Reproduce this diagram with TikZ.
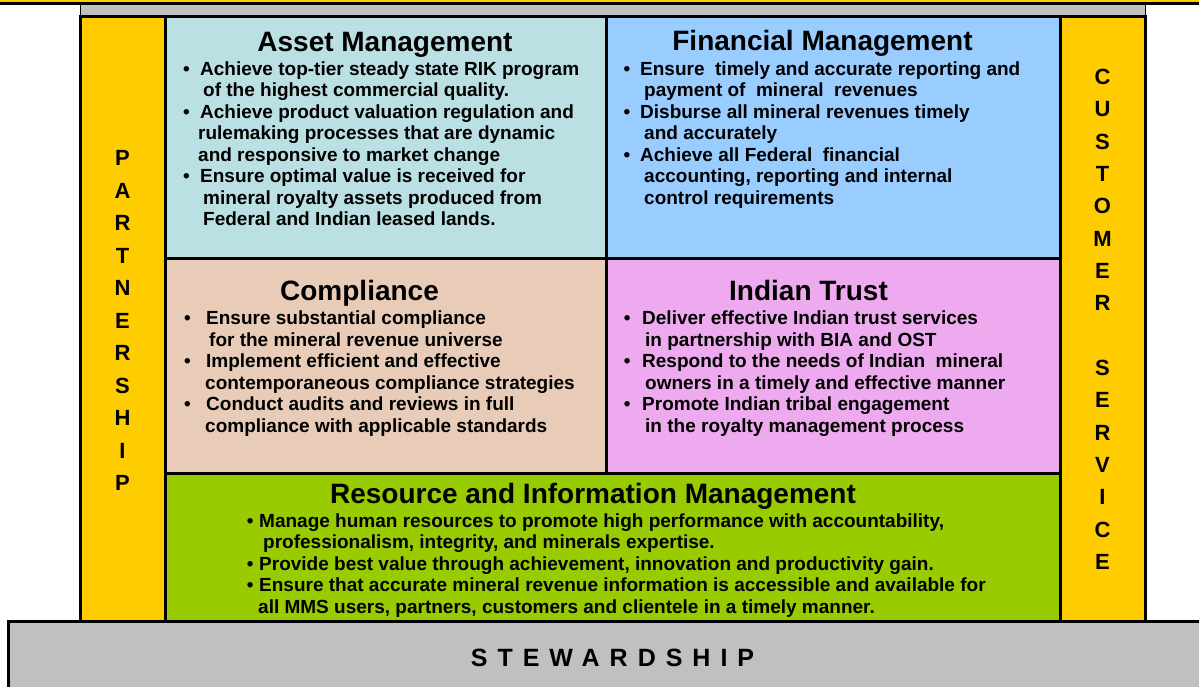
\documentclass[tikz,border=0pt]{standalone}
\usepackage{fontspec}
\setmainfont{Liberation Sans}
\usetikzlibrary{calc}
\definecolor{pillarcol}{HTML}{FFCC00}
\definecolor{beamcol}{HTML}{C0C0C0}
\definecolor{assetcol}{HTML}{BBE0E3}
\definecolor{financecol}{HTML}{99CCFF}
\definecolor{compcol}{HTML}{E8CCB8}
\definecolor{trustcol}{HTML}{EEAAEE}
\definecolor{rescol}{HTML}{99CC00}
\newcommand{\bul}[1][17pt]{\makebox[#1][l]{\textbullet}}
\newcommand{\ind}[1]{\hspace*{#1}}
\tikzset{
  cell/.style={draw=black, line width=3pt, inner sep=0pt, outer sep=0pt, anchor=north west},
  pillar/.style={cell, fill=pillarcol, minimum width=85pt, minimum height=605pt},
  heading/.style={font=\fontsize{28}{32}\selectfont\bfseries, inner sep=0pt, anchor=base},
  goals/.style={font=\fontsize{19}{21.5}\selectfont\bfseries, align=left, inner sep=0pt, anchor=north west},
  letter/.style={font=\fontsize{22}{24}\selectfont\bfseries, inner sep=0pt}
}

\begin{document}
\begin{tikzpicture}[x=1pt,y=-1pt]
\useasboundingbox (0,0) rectangle (1199,686);
\clip (0,0) rectangle (1199,686);
\node[cell, fill=pillarcol, minimum width=1240pt, minimum height=43.5pt] (roof) at (-20,-40) {};
\node[cell, fill=beamcol, line width=1pt, minimum width=1065pt, minimum height=12pt] (beam) at (80,4) {};
\node[pillar] (partner) at (80,16) {};
\node[pillar] (customer) at (1060,16) {};
\node[cell, fill=assetcol, minimum width=441pt, minimum height=242pt] (asset) at (165,16) {};
\node[cell, fill=financecol, minimum width=454pt, minimum height=242pt] (finance) at (606,16) {};
\node[cell, fill=compcol, minimum width=441pt, minimum height=215pt] (comp) at (165,258) {};
\node[cell, fill=trustcol, minimum width=454pt, minimum height=215pt] (trust) at (606,258) {};
\node[cell, fill=rescol, minimum width=895pt, minimum height=148pt] (res) at (165,473) {};
\node[cell, fill=beamcol, minimum width=1230pt, minimum height=90pt] (base) at (8,621) {};

% headings
\node[heading] (assetT) at (385,51) {Asset Management};
\node[heading] (financeT) at (822.5,50.5) {Financial Management};
\node[heading] (compT) at (359.5,300) {Compliance};
\node[heading] (trustT) at (808.5,300) {Indian Trust};
\node[heading] (resT) at (593,503) {Resource and Information Management};

\node[goals] (assetL) at (183,60) {\strut\bul Achieve top-tier steady state RIK program\\
\ind{20pt}of the highest commercial quality.\\
\bul Achieve product valuation regulation and\\
\ind{15pt}rulemaking processes that are dynamic\\
\ind{15pt}and responsive to market change\\
\bul Ensure optimal value is received for\\
\ind{20pt}mineral royalty assets produced from\\
\ind{20pt}Federal and Indian leased lands.};

\node[goals] (financeL) at (623.4,60) {\strut\bul[16.6pt]Ensure~ timely and accurate reporting and\\
\ind{20.6pt}payment of~ mineral~ revenues\\
\bul[16.6pt]Disburse all mineral revenues timely\\
\ind{20.6pt}and accurately\\
\bul[16.6pt]Achieve all Federal~ financial\\
\ind{20.6pt}accounting, reporting and internal\\
\ind{20.6pt}control requirements};

\node[goals] (compL) at (184,309.3) {\strut\bul[22pt]Ensure substantial compliance\\
\ind{25pt}for the mineral revenue universe\\
\bul[22pt]Implement efficient and effective\\
\ind{21pt}contemporaneous compliance strategies\\
\bul[22pt]Conduct audits and reviews in full\\
\ind{21pt}compliance with applicable standards};

\node[goals] (trustL) at (623.7,309.3) {\strut\bul[18.3pt]Deliver effective Indian trust services\\
\ind{21.3pt}in partnership with BIA and OST\\
\bul[18.3pt]Respond to the needs of Indian~ mineral\\
\ind{21.3pt}owners in a timely and effective manner\\
\bul[18.3pt]Promote Indian tribal engagement\\
\ind{21.3pt}in the royalty management process};

\node[goals] (resL) at (246.7,512) {\strut\bul[12.3pt]Manage human resources to promote high performance with accountability,\\
\ind{16.3pt}professionalism, integrity, and minerals expertise.\\
\bul[12.3pt]Provide best value through achievement, innovation and productivity gain.\\
\bul[12.3pt]Ensure that accurate mineral revenue information is accessible and available for\\
\ind{11.3pt}all MMS users, partners, customers and clientele in a timely manner.};

% pillar letters
\foreach \l [count=\i from 0] in {P,A,R,T,N,E,R,S,H,I,P}
  \node[letter] (pa\i) at (122.5,{158+32.5*\i}) {\l};
\foreach \l [count=\i from 0] in {C,U,S,T,O,M,E,R}
  \node[letter] (cu\i) at (1102.5,{77+32.33*\i}) {\l};
\foreach \l [count=\i from 9] in {S,E,R,V,I,C,E}
  \node[letter] (se\i) at (1102.5,{77+32.33*\i}) {\l};

\node[font=\fontsize{25}{28}\selectfont\bfseries\addfontfeature{LetterSpace=40}, inner sep=0pt, anchor=base] (stew) at (612.5,666) {STEWARDSHIP};
\end{tikzpicture}
\end{document}
